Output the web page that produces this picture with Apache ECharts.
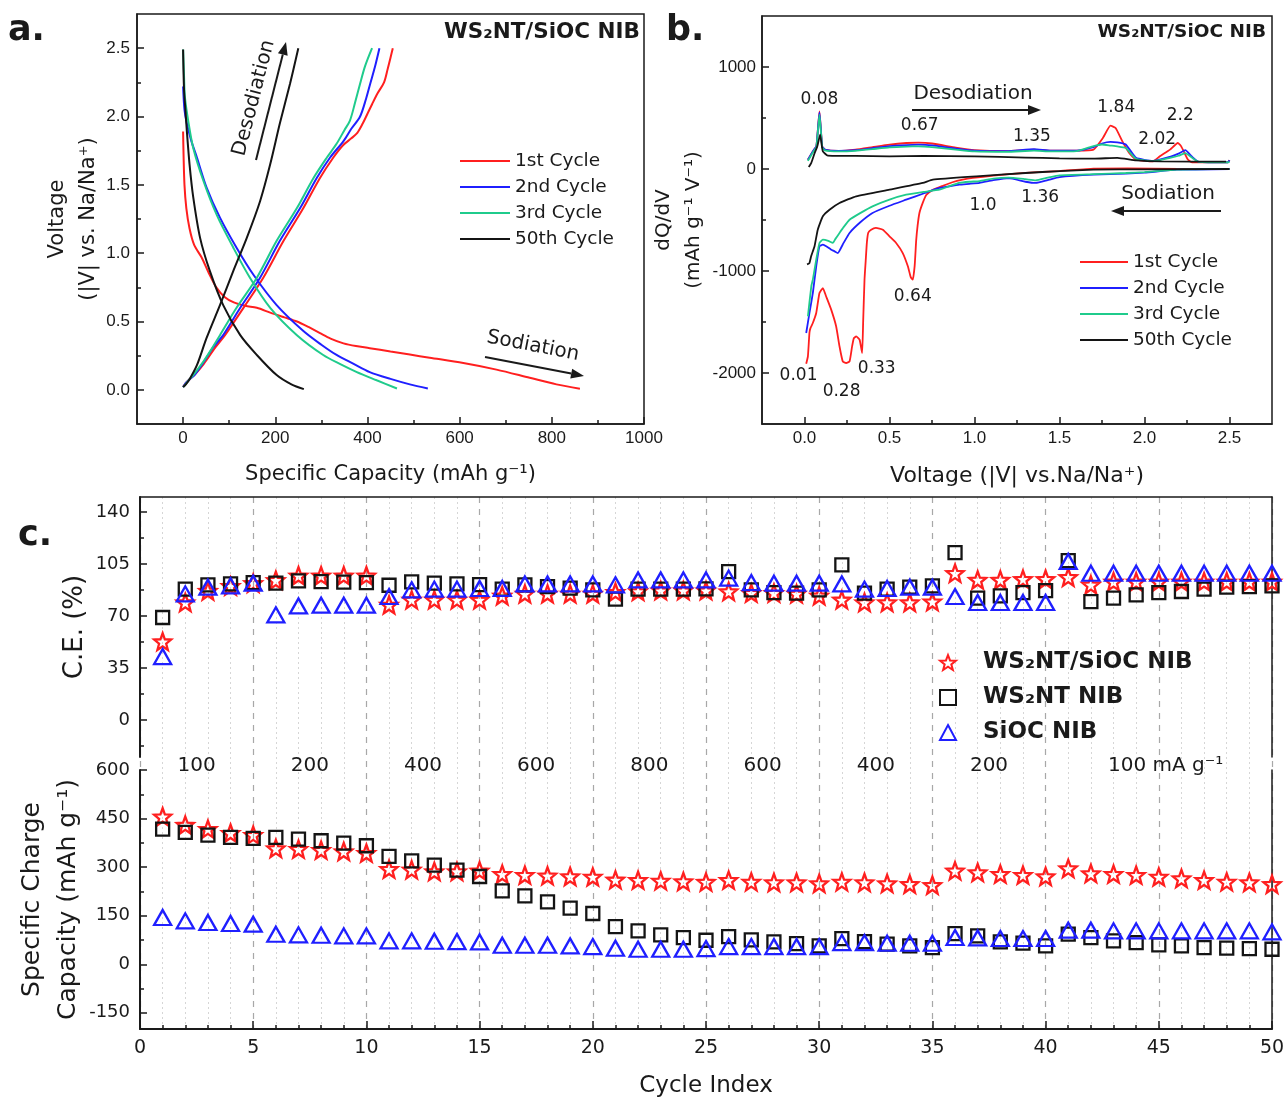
<!DOCTYPE html>
<html>
<head>
<meta charset="utf-8">
<script src="https://cdn.jsdelivr.net/npm/echarts@6/dist/echarts.min.js"></script>
<style>
  html, body { margin: 0; padding: 0; background: #fff; }
  #chart { width: 1285px; height: 1099px; }
</style>
</head>
<body>
<div id="chart"></div>
<script>
// ---------- panel a : voltage profiles [capacity mAh/g, V] ----------
const a1Dis = [[0,1.89],[1,1.72],[3,1.50],[7,1.33],[14,1.18],[24,1.06],[40,0.97],[55,0.86],[72,0.75],[90,0.68],[110,0.64],[135,0.615],[160,0.60],[189,0.565],[220,0.53],[247,0.50],[272,0.46],[297,0.415],[320,0.375],[348,0.34],[375,0.32],[405,0.305],[450,0.28],[492,0.258],[535,0.235],[608,0.196],[680,0.148],[752,0.088],[810,0.04],[861,0.008]];
const a1Chg = [[0,0.02],[6,0.05],[15,0.08],[25,0.11],[45,0.19],[70,0.31],[91,0.40],[131,0.60],[174,0.82],[218,1.09],[261,1.33],[297,1.55],[326,1.70],[347,1.79],[365,1.84],[378,1.88],[390,1.95],[400,2.02],[410,2.09],[422,2.17],[436,2.25],[444,2.35],[450,2.43],[455,2.5]];
const a2Dis = [[0,2.22],[3,2.05],[8,1.95],[18,1.82],[30,1.70],[51,1.48],[80,1.26],[116,1.04],[153,0.84],[203,0.62],[261,0.43],[300,0.33],[333,0.255],[370,0.19],[405,0.13],[450,0.08],[492,0.04],[531,0.01]];
const a2Chg = [[0,0.02],[6,0.05],[15,0.08],[25,0.11],[44,0.20],[65,0.31],[87,0.40],[124,0.60],[167,0.82],[210,1.09],[254,1.33],[290,1.55],[319,1.70],[348,1.82],[365,1.91],[384,2.0],[397,2.13],[406,2.24],[416,2.36],[426,2.5]];
const a3Dis = [[0,2.49],[2,2.3],[4,2.14],[12,1.95],[22,1.77],[44,1.53],[73,1.28],[109,1.04],[145,0.82],[189,0.60],[247,0.40],[304,0.255],[340,0.19],[377,0.13],[420,0.07],[464,0.01]];
const a3Chg = [[0,0.02],[4,0.035],[12,0.07],[22,0.108],[44,0.206],[62,0.30],[80,0.40],[116,0.60],[160,0.82],[203,1.09],[247,1.33],[283,1.55],[312,1.70],[333,1.80],[350,1.90],[362,1.97],[373,2.10],[384,2.24],[395,2.37],[410,2.5]];
const a50Dis = [[0,2.49],[2,2.2],[5,2.05],[8,1.90],[14,1.65],[22,1.41],[37,1.11],[58,0.87],[87,0.62],[124,0.40],[160,0.255],[203,0.108],[235,0.04],[262,0.005]];
const a50Chg = [[0,0.02],[6,0.04],[15,0.083],[30,0.18],[51,0.38],[80,0.62],[109,0.87],[138,1.11],[167,1.38],[189,1.65],[210,1.95],[232,2.24],[250,2.50]];

// ---------- panel b : dQ/dV [V, mAh g-1 V-1] ----------
const bDes1 = [[0.02,90],[0.05,175],[0.07,225],[0.088,565],[0.104,222],[0.12,190],[0.2,178],[0.3,190],[0.4,215],[0.5,240],[0.6,255],[0.67,258],[0.75,250],[0.89,210],[1.0,185],[1.19,175],[1.35,190],[1.45,180],[1.6,180],[1.7,190],[1.755,304],[1.80,425],[1.83,402],[1.87,271],[1.91,157],[1.95,92],[2.05,75],[2.09,124],[2.15,190],[2.196,255],[2.216,222],[2.255,92],[2.28,65],[2.49,65],[2.5,85]];
const bDes2 = [[0.02,90],[0.05,175],[0.07,225],[0.088,555],[0.104,222],[0.12,190],[0.2,178],[0.3,185],[0.4,205],[0.5,225],[0.6,235],[0.67,238],[0.75,232],[0.89,200],[1.0,180],[1.19,175],[1.35,195],[1.45,180],[1.6,180],[1.7,215],[1.75,250],[1.80,265],[1.84,262],[1.89,240],[1.95,110],[2.05,80],[2.15,120],[2.2,150],[2.24,185],[2.28,120],[2.32,70],[2.49,65],[2.5,85]];
const bDes3 = [[0.02,80],[0.05,165],[0.07,215],[0.088,533],[0.104,215],[0.12,182],[0.2,172],[0.3,178],[0.4,195],[0.5,212],[0.6,220],[0.67,222],[0.75,215],[0.89,190],[1.0,172],[1.19,168],[1.35,180],[1.45,172],[1.6,175],[1.7,225],[1.75,240],[1.80,230],[1.84,222],[1.89,206],[1.95,100],[2.05,78],[2.15,110],[2.2,130],[2.24,155],[2.28,110],[2.32,70],[2.49,65],[2.5,70]];
const bDes50 = [[0.025,20],[0.04,60],[0.06,157],[0.075,220],[0.092,337],[0.1,250],[0.108,173],[0.137,131],[0.3,128],[0.5,124],[0.7,128],[1.0,124],[1.3,112],[1.5,105],[1.7,101],[1.84,110],[1.95,85],[2.1,75],[2.48,72]];
const bSod1 = [[2.5,0],[2.2,2],[1.9,6],[1.7,4],[1.5,-20],[1.3,-38],[1.11,-65],[0.99,-88],[0.93,-105],[0.87,-130],[0.814,-165],[0.755,-205],[0.716,-255],[0.696,-330],[0.676,-431],[0.665,-560],[0.657,-700],[0.648,-950],[0.637,-1085],[0.625,-1060],[0.608,-954],[0.578,-824],[0.539,-725],[0.5,-660],[0.461,-595],[0.42,-578],[0.392,-595],[0.375,-625],[0.367,-720],[0.36,-900],[0.353,-1085],[0.345,-1500],[0.339,-1804],[0.324,-1673],[0.304,-1641],[0.29,-1660],[0.28,-1739],[0.265,-1886],[0.245,-1902],[0.225,-1886],[0.206,-1739],[0.186,-1542],[0.157,-1379],[0.127,-1248],[0.108,-1167],[0.088,-1216],[0.069,-1412],[0.049,-1510],[0.035,-1560],[0.029,-1608],[0.02,-1837],[0.01,-1910]];
const bSod2 = [[2.5,0],[2.3,-5],[2.19,-7],[2.0,-35],[1.89,-46],[1.7,-56],[1.5,-80],[1.43,-110],[1.36,-137],[1.3,-125],[1.2,-90],[1.11,-110],[1.03,-135],[0.97,-145],[0.91,-154],[0.85,-170],[0.794,-186],[0.7,-240],[0.598,-301],[0.5,-360],[0.4,-431],[0.33,-520],[0.265,-627],[0.225,-740],[0.196,-824],[0.175,-805],[0.157,-791],[0.13,-760],[0.108,-742],[0.088,-758],[0.069,-954],[0.049,-1216],[0.029,-1412],[0.01,-1608]];
const bSod3 = [[2.5,0],[2.3,-4],[2.19,-7],[2.0,-30],[1.89,-39],[1.7,-50],[1.5,-62],[1.43,-85],[1.36,-111],[1.3,-100],[1.2,-85],[1.11,-95],[1.03,-118],[0.97,-125],[0.91,-137],[0.85,-170],[0.794,-203],[0.7,-225],[0.598,-252],[0.5,-300],[0.4,-366],[0.33,-430],[0.265,-497],[0.23,-570],[0.206,-627],[0.18,-690],[0.167,-725],[0.14,-705],[0.108,-693],[0.088,-725],[0.069,-889],[0.049,-1085],[0.04,-1150],[0.02,-1444]];
const bSod50 = [[2.5,0],[2.0,-3],[1.70,-7],[1.5,-20],[1.30,-39],[1.01,-72],[0.755,-105],[0.696,-137],[0.5,-203],[0.304,-268],[0.206,-333],[0.147,-399],[0.108,-464],[0.078,-595],[0.059,-758],[0.039,-856],[0.029,-922],[0.015,-935]];

const peakText = ['0.08','0.67','1.35','1.84','2.2','2.02','1.0','1.36','0.64','0.01','0.28','0.33'];
const peakV    = [0.088, 0.678, 1.338, 1.834, 2.21, 2.075, 1.05, 1.386, 0.637, -0.035, 0.218, 0.425];
const peakQ    = [679, 424, 316, 601, 522, 287, -360, -282, -1252, -2027, -2184, -1958];

// ---------- panel c : cycling ----------
const cycles = [1,2,3,4,5,6,7,8,9,10,11,12,13,14,15,16,17,18,19,20,21,22,23,24,25,26,27,28,29,30,31,32,33,34,35,36,37,38,39,40,41,42,43,44,45,46,47,48,49,50];
const ceHybrid = [52.7,79,86.8,90,92,94,97,97,97,97,77.4,80.8,80.8,80.8,80.8,83.5,84.8,84.8,84.8,84.8,86,86.5,87,87,87,86.4,85.3,85.3,84.8,83.5,80.8,79,79,79,79.6,98.7,94.2,94.2,94.7,94.7,96,90.9,93,93,93,93,93,93,93,93];
const ceWS2 = [68.9,88,90.9,91.5,92.4,92,93.6,93.1,92.7,92.4,90.6,92.9,92,91.5,91,88,90.9,89.7,88.6,87.5,81.2,88,88,88,88.2,99.8,87.5,85.7,85.3,87.5,104.3,85.3,88,89.3,90.2,112.6,81.9,83.5,85.7,87,107.2,79.6,81.9,84.1,85.7,86.4,88,89.3,89.7,90.2];
const ceSiOC = [42.6,84.8,89.3,90.2,92,70.7,76.7,77.2,77.2,77.2,83,87.5,88,88,88.4,88.4,91.5,91.5,91.5,91.5,90.9,94.2,94.2,94.2,94.2,95.4,92.4,92,92,92,91.5,88,88.4,89.3,89.3,83,79,79,79,79,106.6,98.7,98.7,98.7,98.7,98.7,98.7,98.7,98.7,98.7];
const capHybrid = [455.7,430,417.5,405,399,357.7,355.7,352.6,348.5,343.3,293.8,291.8,286.6,286.6,288.7,278.4,275.3,273.2,271.1,270,260.8,259.8,257.7,255.7,254,259.8,254.6,252.6,252.6,249.5,254.6,252.6,249.5,247.4,244.3,288.7,283.5,278.4,275.3,271.1,295.9,280.4,278.4,275.3,270,265,259.8,254.6,252.6,247.4];
const capWS2 = [417.5,407.2,399,391.8,388.7,391.8,386.6,381.4,374.2,366,333,319.6,306.2,290.7,271.1,226.8,211.3,192.8,173.2,156.7,116.5,103.1,90.7,82.5,74.2,85.6,75.3,69,64,56.7,79.4,70.1,61.9,56.7,51.5,94.8,87.6,69,65,56.7,92.8,82.5,72.2,67,59.8,56.7,51.5,49.5,48.5,46.4];
const capSiOC = [144.3,134,128.9,125.8,123.7,92.8,90.7,89.7,87.6,87.6,72.2,72.2,71.1,70.1,69,58.8,58.8,58.8,56.7,54.6,49.5,46.4,46.4,46.4,48.5,54.6,54.6,54.6,54.6,54.6,67,67,65,65,65,82.5,81.4,79.4,79.4,79.4,105.2,105.2,103.1,103.1,103.1,103.1,103.1,103.1,103.1,100];
const rateText = ['100','200','400','600','800','600','400','200','100 mA g\u207B\u00B9'];
const rateAt = [2.5, 7.5, 12.5, 17.5, 22.5, 27.5, 32.5, 37.5, 45.3];

// tick label lists
const capLabels = [0,200,400,600,800,1000], capMinor = [100,300,500,700,900];
const voltLabels = [0,0.5,1,1.5,2,2.5], voltMinor = [0.25,0.75,1.25,1.75,2.25];
const dqLabels = [-2000,-1000,0,1000], dqMinor = [-1500,-500,500];
const ceLabels = [0,35,70,105,140], ceMinor = [-17.5,17.5,52.5,87.5,122.5];
const capCLabels = [-150,0,150,300,450,600], capCMinor = [-75,75,225,375,525];

const FA = '"Liberation Sans", Arial, sans-serif';
const FD = '"DejaVu Sans", Verdana, sans-serif';
const INK = '#1a1a1a';
const RED = '#ff1f1f', BLUE = '#1f1fff', GREEN = '#1fcb8c', BLACK = '#141414';
const cycleNames = ['1st Cycle', '2nd Cycle', '3rd Cycle', '50th Cycle'];
const cycleColors = [RED, BLUE, GREEN, BLACK];
const sampleNames = ['WS\u2082NT/SiOC NIB', 'WS\u2082NT NIB', 'SiOC NIB'];

// main value axis + an overlay axis that only carries the short minor ticks
function axisPair(grid, pos, min, max, labels, minors, fmt, font, size, margin, extra) {
  const main = Object.assign({
    type: 'value', gridIndex: grid, position: pos, min: min, max: max, nameMoveOverlap: false,
    axisLine: { show: true, onZero: false, lineStyle: { color: INK, width: 1.5 } },
    axisTick: { show: true, inside: true, length: 7, customValues: labels, lineStyle: { color: INK, width: 1.5 } },
    axisLabel: { customValues: labels, formatter: fmt, fontFamily: font, fontSize: size, color: INK, margin: margin },
    splitLine: { show: false }
  }, extra || {});
  const minor = {
    type: 'value', gridIndex: grid, position: pos, min: min, max: max,
    axisLine: { show: false, onZero: false },
    axisTick: { show: true, inside: true, length: 4, customValues: minors, lineStyle: { color: INK, width: 1.5 } },
    axisLabel: { show: false }, splitLine: { show: false }
  };
  return [main, minor];
}
function borderAxis(grid, pos, min, max) {
  return { type: 'value', gridIndex: grid, position: pos, min: min, max: max,
    axisLine: { show: true, onZero: false, lineStyle: { color: INK, width: 1.5 } },
    axisTick: { show: false }, axisLabel: { show: false }, splitLine: { show: false } };
}

const fix1 = v => v.toFixed(1);
const plain = v => String(v);

// x indices: 0/1 a, 2/3 b, 4 ce (top border), 5 cycle axis, 6 background grid lines
const xAxes = [].concat(
  axisPair(0, 'bottom', -100, 1000, capLabels, capMinor, plain, FA, 17, 6,
    { name: 'Specific Capacity (mAh g\u207B\u00B9)', nameLocation: 'middle', nameGap: 40,
      nameTextStyle: { fontFamily: FD, fontSize: 21, color: INK } }),
  axisPair(1, 'bottom', -0.25, 2.75, voltLabels, voltMinor, fix1, FA, 17, 6,
    { name: 'Voltage (|V| vs.Na/Na\u207A)', nameLocation: 'middle', nameGap: 41,
      nameTextStyle: { fontFamily: FD, fontSize: 22, color: INK } }),
  [borderAxis(2, 'top', 0, 50),
   { type: 'value', gridIndex: 3, position: 'bottom', min: 0, max: 50, interval: 5, nameMoveOverlap: false,
     axisLine: { show: true, onZero: false, lineStyle: { color: INK, width: 2 } },
     axisTick: { show: true, inside: true, length: 8, lineStyle: { color: INK, width: 1.5 } },
     minorTick: { show: true, splitNumber: 5, length: 4, lineStyle: { color: INK, width: 1.5 } },
     axisLabel: { fontFamily: FD, fontSize: 19, color: INK, margin: 10 },
     splitLine: { show: false },
     name: 'Cycle Index', nameLocation: 'middle', nameGap: 46,
     nameTextStyle: { fontFamily: FD, fontSize: 23, color: INK } },
   { type: 'value', gridIndex: 4, position: 'bottom', min: 0, max: 50, interval: 5,
     axisLine: { show: false, onZero: false }, axisTick: { show: false }, axisLabel: { show: false },
     minorTick: { show: false, splitNumber: 5 },
     splitLine: { show: true, lineStyle: { color: '#a8a8a8', type: [6, 6], width: 1.2 } },
     minorSplitLine: { show: true, lineStyle: { color: '#d6d6d6', type: [2, 3], width: 1 } } }]
);

// y indices: 0/1 a, 2/3 b, 4/5 ce, 6 ce right, 7/8 cap, 9 cap right, 10 bg
const yAxes = [].concat(
  axisPair(0, 'left', -0.25, 2.75, voltLabels, voltMinor, fix1, FA, 17, 7,
    { name: 'Voltage\n(|V| vs. Na/Na\u207A)', nameLocation: 'middle', nameGap: 33,
      nameTextStyle: { fontFamily: FD, fontSize: 21, color: INK, lineHeight: 31 } }),
  axisPair(1, 'left', -2500, 1500, dqLabels, dqMinor, plain, FA, 17, 6,
    { name: 'dQ/dV\n(mAh g\u207B\u00B9 V\u207B\u00B9)', nameLocation: 'middle', nameGap: 53,
      nameTextStyle: { fontFamily: FD, fontSize: 20, color: INK, lineHeight: 30 } }),
  axisPair(2, 'left', -25, 150, ceLabels, ceMinor, plain, FD, 18, 10,
    { name: 'C.E. (%)', nameLocation: 'middle', nameGap: 52,
      nameTextStyle: { fontFamily: FD, fontSize: 26, color: INK },
      axisLine: { show: true, onZero: false, lineStyle: { color: INK, width: 2 } } }),
  [borderAxis(2, 'right', -25, 150)],
  axisPair(3, 'left', -200, 600, capCLabels, capCMinor, plain, FD, 18, 10,
    { name: 'Specific Charge\nCapacity (mAh g\u207B\u00B9)', nameLocation: 'middle', nameGap: 54,
      nameTextStyle: { fontFamily: FD, fontSize: 25, color: INK, lineHeight: 36 },
      axisLine: { show: true, onZero: false, lineStyle: { color: INK, width: 2 } } }),
  [borderAxis(3, 'right', -200, 600),
   { type: 'value', gridIndex: 4, min: 0, max: 1, show: false }]
);

const series = [];
const aSets = [[a1Dis, a1Chg], [a2Dis, a2Chg], [a3Dis, a3Chg], [a50Dis, a50Chg]];
aSets.forEach((pair, i) => pair.forEach(d => series.push({
  type: 'line', name: cycleNames[i], xAxisIndex: 0, yAxisIndex: 0, data: d,
  showSymbol: false, smooth: 0.3, silent: true,
  lineStyle: { color: cycleColors[i], width: 2 }, itemStyle: { color: cycleColors[i] }
})));
const bSets = [[bDes1, bSod1], [bDes2, bSod2], [bDes3, bSod3], [bDes50, bSod50]];
bSets.forEach((pair, i) => pair.forEach(d => series.push({
  type: 'line', name: cycleNames[i], xAxisIndex: 2, yAxisIndex: 2, data: d,
  showSymbol: false, smooth: 0.15, silent: true,
  lineStyle: { color: cycleColors[i], width: 1.8 }, itemStyle: { color: cycleColors[i] }
})));
series.push({
  type: 'scatter', xAxisIndex: 2, yAxisIndex: 2, silent: true, symbolSize: 1,
  itemStyle: { color: 'rgba(0,0,0,0)', opacity: 1 },
  data: peakText.map((t, i) => [peakV[i], peakQ[i], t]),
  label: { show: true, position: 'inside', formatter: p => p.value[2],
    fontFamily: FD, fontSize: 17, color: '#1a1a1a', textBorderWidth: 0 }
});

// star outline for the hybrid electrode
const starPath = 'path://' + [0,1,2,3,4,5,6,7,8,9].map(i => {
  const r = i % 2 ? 0.42 : 1, a = -Math.PI / 2 + i * Math.PI / 5;
  return (i ? 'L' : 'M') + (50 + 50 * r * Math.cos(a)).toFixed(2) + ' ' + (50 + 50 * r * Math.sin(a)).toFixed(2);
}).join(' ') + ' Z';
const symbols = [starPath, 'rect', 'triangle'];
const symSizes = [17, 13, [17, 15]];
const symColors = [RED, BLACK, BLUE];
const ceSets = [ceHybrid, ceWS2, ceSiOC];
const capSets = [capHybrid, capWS2, capSiOC];
[[ceSets, 4, 4], [capSets, 5, 7]].forEach(([sets, xi, yi]) => sets.forEach((vals, i) => series.push({
  type: 'scatter', name: sampleNames[i], xAxisIndex: xi, yAxisIndex: yi,
  data: cycles.map((c, k) => [c, vals[k]]), symbol: symbols[i], symbolSize: symSizes[i],
  silent: true,
  itemStyle: { color: 'rgba(0,0,0,0)', borderColor: symColors[i], borderWidth: 2.3, opacity: 1 }
})));
series.push({
  type: 'scatter', xAxisIndex: 4, yAxisIndex: 4, silent: true, symbolSize: 1,
  itemStyle: { color: 'rgba(0,0,0,0)', opacity: 1 },
  data: rateAt.map((c, i) => [c, -25, rateText[i]]),
  label: { show: true, position: 'inside', offset: [0, 9], formatter: p => p.value[2],
    fontFamily: FD, fontSize: 20, color: '#1a1a1a', textBorderWidth: 0 }
});

// annotation helpers (arrows, texts)
function arrow(x1, y1, x2, y2) {
  const a = Math.atan2(y2 - y1, x2 - x1), L = 13, W = 5;
  const bx = x2 - L * Math.cos(a), by = y2 - L * Math.sin(a);
  return [
    { type: 'line', z: 50, shape: { x1: x1, y1: y1, x2: bx, y2: by }, style: { stroke: INK, lineWidth: 2 } },
    { type: 'polygon', z: 50, shape: { points: [[x2, y2], [bx + W * Math.sin(a), by - W * Math.cos(a)], [bx - W * Math.sin(a), by + W * Math.cos(a)]] }, style: { fill: INK } }
  ];
}
function txt(s, x, y, size, opts) {
  return Object.assign({ type: 'text', z: 50, x: x, y: y,
    style: Object.assign({ text: s, fontFamily: FD, fontSize: size, fill: INK, align: 'center', verticalAlign: 'middle' }, (opts && opts.style) || {}) },
    opts && opts.rotation !== undefined ? { rotation: opts.rotation } : {});
}
const deg = Math.PI / 180;
const graphics = [].concat(
  txt('a.', 8, 31, 35, { style: { fontWeight: 'bold', align: 'left' } }),
  txt('b.', 666, 31, 35, { style: { fontWeight: 'bold', align: 'left' } }),
  txt('c.', 18, 536, 35, { style: { fontWeight: 'bold', align: 'left' } }),
  txt('WS\u2082NT/SiOC NIB', 640, 32, 21.5, { style: { fontWeight: 'bold', align: 'right' } }),
  txt('WS\u2082NT/SiOC NIB', 1266, 32, 18.5, { style: { fontWeight: 'bold', align: 'right' } }),
  txt('Desodiation', 254, 98, 20, { rotation: 75.5 * deg }),
  arrow(256, 160, 286, 42),
  txt('Sodiation', 533, 346, 20, { rotation: -11 * deg }),
  arrow(485, 357, 584, 376),
  txt('Desodiation', 973, 94, 20),
  arrow(912, 110, 1041, 110),
  txt('Sodiation', 1168, 194, 20),
  arrow(1221, 211, 1111, 211)
);

const chart = echarts.init(document.getElementById('chart'), null, { renderer: 'canvas' });
chart.setOption({
  animation: false,
  backgroundColor: '#fff',
  grid: [
    { left: 137, top: 14, width: 507, height: 410, show: true, borderColor: INK, borderWidth: 1.5, outerBoundsMode: 'none' },
    { left: 762, top: 16, width: 510, height: 408, show: true, borderColor: INK, borderWidth: 1.5, outerBoundsMode: 'none' },
    { left: 140, top: 497, width: 1132, height: 260, outerBoundsMode: 'none' },
    { left: 140, top: 770, width: 1132, height: 259, outerBoundsMode: 'none' },
    { left: 140, top: 497, width: 1132, height: 532, outerBoundsMode: 'none' }
  ],
  legend: [
    { data: cycleNames, orient: 'vertical', left: 460, top: 148, padding: 0, icon: 'rect', itemWidth: 50, itemHeight: 2,
      itemGap: 0, selectedMode: false, textStyle: { fontFamily: FD, fontSize: 18.5, color: INK, lineHeight: 26 } },
    { data: cycleNames, orient: 'vertical', left: 1080, top: 249, padding: 0, icon: 'rect', itemWidth: 48, itemHeight: 2,
      itemGap: 0, selectedMode: false, textStyle: { fontFamily: FD, fontSize: 18.5, color: INK, lineHeight: 26 } },
    { data: sampleNames, orient: 'vertical', left: 939, top: 645, padding: 0, itemWidth: 16, itemHeight: 15,
      itemGap: 0, selectedMode: false, itemStyle: { opacity: 1 },
      textStyle: { fontFamily: FD, fontSize: 23, fontWeight: 'bold', color: INK, lineHeight: 35, padding: [0, 0, 0, 22] } }
  ],
  xAxis: xAxes,
  yAxis: yAxes,
  series: series,
  graphic: graphics
});
</script>
</body>
</html>
